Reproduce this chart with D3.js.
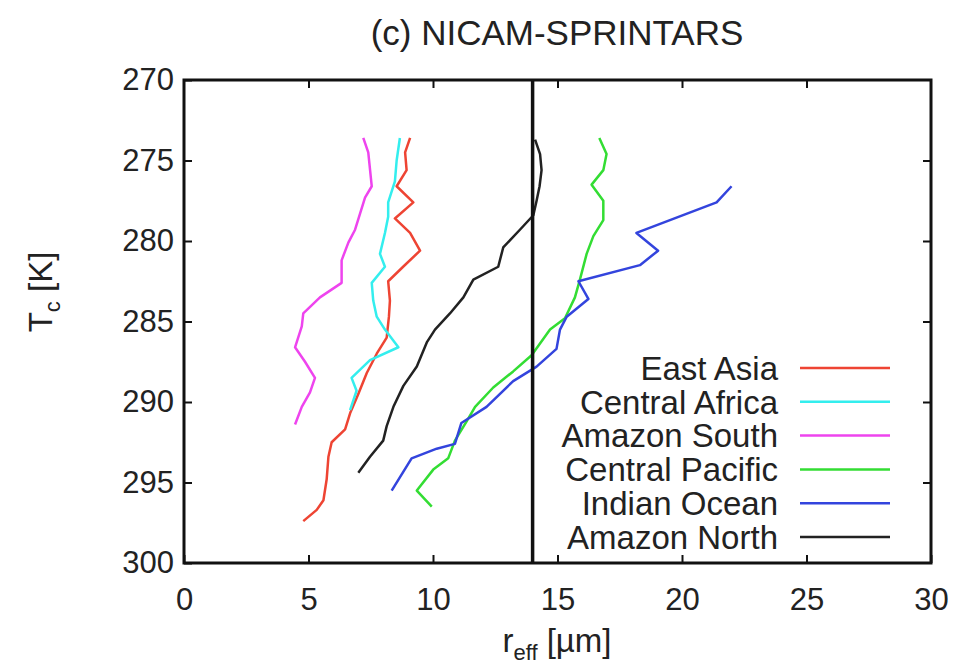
<!DOCTYPE html>
<html>
<head>
<meta charset="utf-8">
<script src="https://cdn.jsdelivr.net/npm/d3@7"></script>
<style>
  body { margin: 0; background: #fff; }
  text { font-family: "Liberation Sans", Arial, Helvetica, sans-serif; fill: #222; }
</style>
</head>
<body>
<svg id="chart" width="976" height="664"></svg>
<script>
// data: [T_c (K), r_eff (um)]
var eastAsia = [[273.6,9.08],[274.5,8.88],[275.6,8.94],[276.6,8.54],[277.6,9.21],[278.6,8.47],[279.5,9.08],[280.6,9.48],
  [281.6,8.80],[282.5,8.20],[283.7,8.27],[284.7,8.23],[286.0,8.14],[287.0,7.74],[288.2,7.34],[289.5,7.00],[290.7,6.67],
  [291.7,6.47],[292.5,5.93],[293.4,5.80],[294.8,5.73],[296.1,5.60],[296.7,5.33],[297.4,4.79]];
var centralAfrica = [[273.6,8.67],[275.0,8.54],[276.3,8.47],[277.6,8.20],[278.5,8.20],[279.5,8.07],[280.8,7.87],[281.6,8.07],
  [282.6,7.54],[283.7,7.60],[284.7,7.74],[285.5,8.07],[286.6,8.61],[287.4,7.47],[288.5,6.73],[289.3,6.93],[290.5,6.67]];
var amazonSouth = [[273.6,7.20],[274.5,7.40],[276.6,7.54],[277.3,7.27],[278.3,7.07],[279.3,6.87],[280.1,6.60],[281.2,6.33],
  [282.6,6.33],[283.5,5.46],[284.5,4.79],[285.3,4.73],[286.6,4.46],[287.5,4.86],[288.5,5.26],[289.4,5.06],[290.3,4.73],[291.4,4.46]];
var centralPacific = [[273.6,16.68],[274.6,16.97],[275.6,16.84],[276.5,16.37],[277.5,16.84],[278.7,16.84],[279.7,16.44],
  [280.8,16.17],[282.4,15.90],[283.5,15.70],[284.8,15.30],[285.5,14.70],[287.1,13.96],[288.1,13.22],[289.1,12.42],
  [290.3,11.69],[291.2,11.35],[292.4,10.88],[293.5,10.61],[294.2,10.01],[295.5,9.35],[296.5,9.95]];
var indianOcean = [[276.6,21.99],[277.6,21.39],[279.5,18.17],[280.6,19.04],[281.5,18.31],[282.5,15.84],[283.6,16.24],
  [284.7,15.37],[285.5,15.10],[286.7,14.96],[287.8,14.16],[288.7,13.22],[290.3,12.15],[291.3,11.14],[292.6,10.88],
  [292.9,10.15],[293.5,9.14],[295.5,8.34]];
var amazonNorth = [[273.7,14.10],[274.6,14.30],[275.6,14.36],[276.6,14.28],[277.5,14.16],[278.4,14.03],[279.3,13.49],
  [280.4,12.82],[281.6,12.62],[282.4,11.62],[283.5,11.22],[284.5,10.68],[285.5,10.08],[286.3,9.75],[287.8,9.35],
  [289.0,8.81],[290.3,8.41],[291.5,8.14],[292.4,8.00],[293.4,7.47],[294.4,7.00]];

var seriesNames = ["East Asia", "Central Africa", "Amazon South", "Central Pacific", "Indian Ocean", "Amazon North"];
var seriesData = [eastAsia, centralAfrica, amazonSouth, centralPacific, indianOcean, amazonNorth];
var seriesColors = ["#ee4433", "#33eeee", "#ee44ee", "#33dd33", "#3344dd", "#222222"];

var xTicks = [0, 5, 10, 15, 20, 25, 30];
var yTicks = [270, 275, 280, 285, 290, 295, 300];
var refLine = 14; // vertical reference line

var svg = d3.select("#chart");
var plot = {left: 184, right: 931, top: 80, bottom: 563};
var fs = "33px";

var x = d3.scaleLinear().domain([0, 30]).range([plot.left, plot.right]);
var y = d3.scaleLinear().domain([270, 300]).range([plot.top, plot.bottom]);

// series lines
var line = d3.line()
    .x(function(d){ return x(d[1]); })
    .y(function(d){ return y(d[0]); });

svg.selectAll("path.series")
    .data(seriesData)
    .enter()
    .append("path")
    .attr("class", "series")
    .attr("d", line)
    .attr("fill", "none")
    .attr("stroke", function(d, i){ return seriesColors[i]; })
    .attr("stroke-width", 2.5)
    .attr("stroke-linejoin", "round");

// reference line
svg.append("line")
    .attr("x1", x(refLine)).attr("x2", x(refLine))
    .attr("y1", plot.top).attr("y2", plot.bottom)
    .attr("stroke", "#111").attr("stroke-width", 3.5);

// axes with inward ticks on all four sides
var tickSize = 8;
svg.append("g").attr("transform", "translate(0," + plot.bottom + ")")
    .call(d3.axisBottom(x).tickValues(xTicks).tickSizeInner(-tickSize).tickSizeOuter(0).tickPadding(25))
    .call(function(g){ g.select(".domain").remove(); g.selectAll("text").style("font-size", "31px").attr("fill", "#222"); });
svg.append("g").attr("transform", "translate(0," + plot.top + ")")
    .call(d3.axisTop(x).tickValues(xTicks.slice(1, -1)).tickSizeInner(-tickSize).tickSizeOuter(0).tickFormat(""))
    .call(function(g){ g.select(".domain").remove(); });
svg.append("g").attr("transform", "translate(" + plot.left + ",0)")
    .call(d3.axisLeft(y).tickValues(yTicks).tickSizeInner(-tickSize).tickSizeOuter(0).tickPadding(10))
    .call(function(g){ g.select(".domain").remove(); g.selectAll("text").style("font-size", "31px").attr("fill", "#222"); });
svg.append("g").attr("transform", "translate(" + plot.right + ",0)")
    .call(d3.axisRight(y).tickValues(yTicks.slice(1, -1)).tickSizeInner(-tickSize).tickSizeOuter(0).tickFormat(""))
    .call(function(g){ g.select(".domain").remove(); });
svg.selectAll(".tick line").attr("stroke", "#111").attr("stroke-width", 2);

// frame
svg.append("rect")
    .attr("x", plot.left).attr("y", plot.top)
    .attr("width", plot.right - plot.left).attr("height", plot.bottom - plot.top)
    .attr("fill", "none").attr("stroke", "#111").attr("stroke-width", 3);

// title and axis labels
svg.append("text").attr("x", 557).attr("y", 45).attr("text-anchor", "middle")
    .style("font-size", "35px").text("(c) NICAM-SPRINTARS");

var xl = svg.append("text").attr("x", 557).attr("y", 652).attr("text-anchor", "middle").style("font-size", fs);
xl.append("tspan").text("r");
xl.append("tspan").attr("dy", 8).style("font-size", "22px").text("eff");
xl.append("tspan").attr("dy", -8).text(" [\u00b5m]");

var yl = svg.append("text").attr("transform", "translate(52,292) rotate(-90)").attr("text-anchor", "middle").style("font-size", fs);
yl.append("tspan").text("T");
yl.append("tspan").attr("dy", 8).style("font-size", "22px").text("c");
yl.append("tspan").attr("dy", -8).text(" [K]");

// legend
var legend = svg.append("g").selectAll("g")
    .data(seriesNames)
    .enter()
    .append("g")
    .attr("transform", function(d, i){ return "translate(0," + (368 + i * 33.8) + ")"; });
legend.append("text")
    .attr("x", 778).attr("dy", "0.36em")
    .attr("text-anchor", "end")
    .style("font-size", fs)
    .text(function(d){ return d; });
legend.append("line")
    .attr("x1", 800).attr("x2", 890)
    .attr("stroke", function(d, i){ return seriesColors[i]; })
    .attr("stroke-width", 2.5);
</script>
</body>
</html>
